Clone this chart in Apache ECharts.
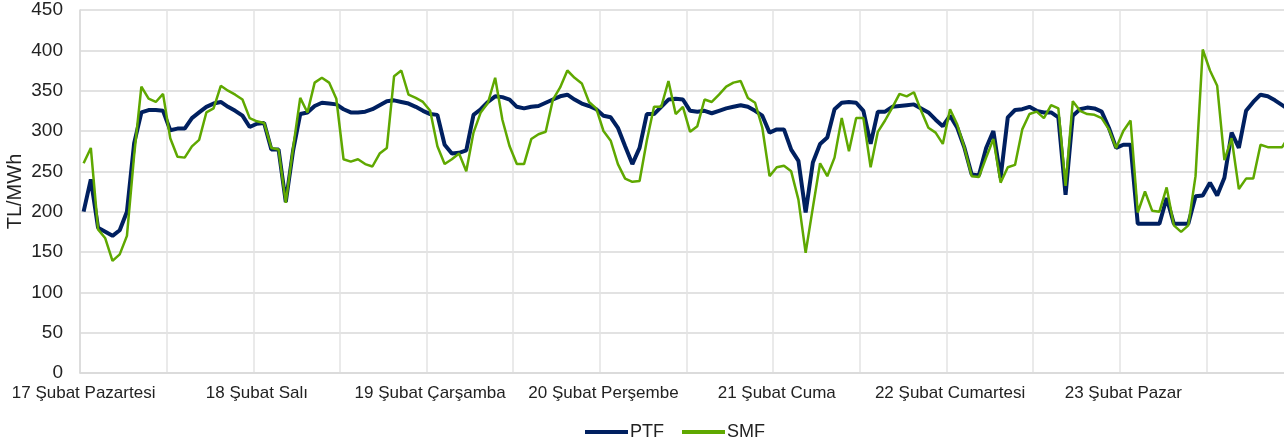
<!DOCTYPE html>
<html>
<head>
<meta charset="utf-8">
<script src="https://cdn.jsdelivr.net/npm/echarts@6/dist/echarts.min.js"></script>
<style>
html,body{margin:0;padding:0;background:#fff;}
#c{width:1284px;height:446px;}
</style>
</head>
<body>
<div id="c"></div>
<script>
const days = ['17 Şubat Pazartesi','18 Şubat Salı','19 Şubat Çarşamba','20 Şubat Perşembe','21 Şubat Cuma','22 Şubat Cumartesi','23 Şubat Pazar'];
const yTicks = [0,50,100,150,200,250,300,350,400,450];

const ptf = [
  200,240,180,175,170,177,200,285,323,326,326,325,301,303,303,316,323,330,334,336,330,325,319,305,
  309,310,277,277,212,275,321,323,331,335,334,333,327,323,323,324,327,332,337,338,336,334,330,325,
  321,320,283,272,273,276,320,327,336,343,342,339,330,328,330,331,335,339,343,345,339,334,331,327,
  319,317,304,281,259,279,321,321,330,339,340,339,325,324,325,322,325,328,330,332,330,325,319,298,
  302,302,277,263,199,261,284,292,327,335,336,335,325,284,324,324,330,331,332,333,328,323,314,306,
  319,304,279,246,245,279,300,242,317,326,327,330,325,323,323,317,221,319,327,329,328,324,304,279,
  283,283,185,185,185,185,217,185,185,185,219,220,236,220,242,298,279,325,336,345,343,338,332,326
];
const smf = [
  260,279,178,167,139,147,170,270,355,340,336,346,291,268,267,281,289,323,328,356,350,345,339,316,
  312,310,279,277,211,278,341,323,360,366,360,340,265,262,265,259,256,272,279,368,375,345,341,336,
  325,281,259,265,272,250,298,323,335,366,314,281,259,259,290,296,299,339,354,375,366,359,336,328,
  300,288,259,241,237,238,288,330,330,362,321,330,299,306,339,336,345,355,360,362,341,335,304,244,
  255,257,250,215,149,205,260,244,267,316,275,316,316,255,299,313,329,346,343,348,325,304,298,284,
  327,308,279,244,243,267,290,236,255,258,302,321,324,316,332,328,232,337,325,321,320,316,302,279,
  300,313,199,225,201,200,230,183,175,183,244,401,375,356,264,291,228,241,241,283,280,280,280,295
];

// one category per hour; the day name sits on the first hour of each day
const categories = [];
days.forEach(d => { for (let h = 0; h < 24; h++) categories.push(h === 0 ? d : d + ' ' + h + ':00'); });

const font = 'Liberation Sans, Arial, sans-serif';
const chart = echarts.init(document.getElementById('c'));
chart.setOption({
  animation: false,
  backgroundColor: '#ffffff',
  grid: {left: 80, right: -9, top: 10, bottom: 73, outerBoundsMode: 'none'},
  legend: {
    data: [{name:'PTF'},{name:'SMF'}],
    left: 580, top: 418,
    itemWidth: 43, itemHeight: 4, itemGap: 18,
    icon: 'rect',
    textStyle: {fontFamily: font, fontSize: 18, color: '#222', padding: [0,0,0,-3]}
  },
  xAxis: {
    type: 'category',
    data: categories,
    boundaryGap: true,
    axisLine: {show: true, lineStyle: {color: '#d9d9d9', width: 1.5}},
    axisTick: {show: false},
    axisLabel: {
      interval: 23, margin: 12,
      fontFamily: font, fontSize: 17, color: '#222',
      formatter: v => days.indexOf(v) >= 0 ? v : ''
    },
    splitLine: {show: true, interval: 11, lineStyle: {color: '#e3e3e3', width: 1.5}}
  },
  yAxis: {
    type: 'value',
    min: yTicks[0], max: yTicks[yTicks.length-1], interval: 50,
    name: 'TL/MWh', nameLocation: 'middle', nameGap: 55, nameRotate: 90,
    nameMoveOverlap: false,
    nameTextStyle: {fontFamily: font, fontSize: 20, color: '#222'},
    axisLine: {show: true, lineStyle: {color: '#d9d9d9', width: 1.5}},
    axisTick: {show: false},
    axisLabel: {fontFamily: font, fontSize: 19, color: '#222', margin: 17},
    splitLine: {show: true, lineStyle: {color: '#d9d9d9', width: 1.5}}
  },
  series: [
    {name: 'PTF', type: 'line', data: ptf, symbol: 'none', color: '#002060',
     lineStyle: {width: 4, color: '#002060'}, z: 3},
    {name: 'SMF', type: 'line', data: smf, symbol: 'none', color: '#5fa800',
     lineStyle: {width: 2.5, color: '#5fa800'}, z: 4}
  ]
});
</script>
</body>
</html>
